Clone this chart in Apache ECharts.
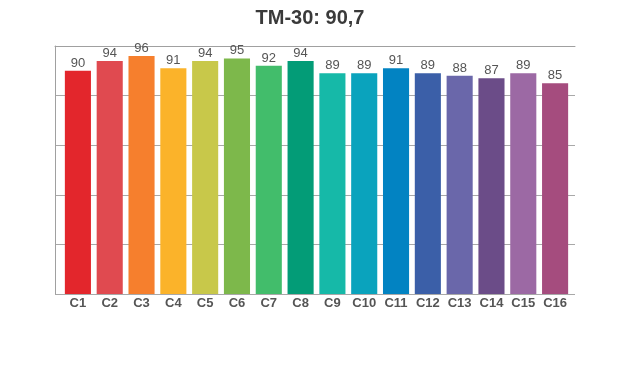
<!DOCTYPE html>
<html>
<head>
<meta charset="utf-8">
<script src="https://cdn.jsdelivr.net/npm/echarts@6/dist/echarts.min.js"></script>
<style>html,body{margin:0;padding:0;background:#fff}#c{width:620px;height:370px}</style>
</head>
<body>
<div id="c"></div>
<script>
var categories = ['C1','C2','C3','C4','C5','C6','C7','C8','C9','C10','C11','C12','C13','C14','C15','C16'];
var values = [90, 94, 96, 91, 94, 95, 92, 94, 89, 89, 91, 89, 88, 87, 89, 85];
var colors = ['#e3262c','#e04a50','#f67f2d','#fbb32a','#c8c84a','#7db84b','#42bd6b','#039c77',
              '#16b9a8','#0aa3bd','#0283c2','#3b5fa8','#6a67aa','#6b4c88','#9c69a4','#a54c7e'];
var titleText = 'TM-30: 90,7';

var chart = echarts.init(document.getElementById('c'), null, {renderer: 'canvas'});
chart.setOption({
  animation: false,
  backgroundColor: '#fff',
  title: {
    text: titleText, left: 'center', top: 3,
    textStyle: {fontFamily: 'Liberation Sans, Arial, sans-serif', fontSize: 20, fontWeight: 'bold', color: '#3a3a3a'}
  },
  grid: [
    {left: 55, right: 45, top: 46, bottom: 76},
    {left: 62, right: 49, top: 46, bottom: 76}
  ],
  xAxis: [
    {type: 'value', gridIndex: 0, position: 'top', min: 0, max: 1,
     axisLine: {show: true, onZero: false, lineStyle: {color: '#a0a0a0', width: 1}},
     axisTick: {show: false}, axisLabel: {show: false}, splitLine: {show: false}},
    {type: 'category', gridIndex: 1, data: categories,
     axisLine: {show: false}, axisTick: {show: false},
     axisLabel: {interval: 0, margin: 3, fontFamily: 'Liberation Sans, Arial, sans-serif', fontSize: 13, fontWeight: 'bold', color: '#555'}}
  ],
  yAxis: [
    {type: 'value', gridIndex: 0, min: 0, max: 100, interval: 20,
     axisLine: {show: true, lineStyle: {color: '#a0a0a0', width: 1}},
     axisTick: {show: false}, axisLabel: {show: false},
     splitLine: {show: true, lineStyle: {color: '#a8a8a8', width: 1}}},
    {type: 'value', gridIndex: 1, min: 0, max: 100, interval: 20,
     show: false}
  ],
  series: [{
    type: 'bar', xAxisIndex: 1, yAxisIndex: 1,
    data: values.map(function (v, i) { return {value: v, itemStyle: {color: colors[i]}}; }),
    barCategoryGap: '18%',
    label: {show: true, position: 'top', distance: 1,
            fontFamily: 'Liberation Sans, Arial, sans-serif', fontSize: 13, color: '#555'}
  }]
});
</script>
</body>
</html>
